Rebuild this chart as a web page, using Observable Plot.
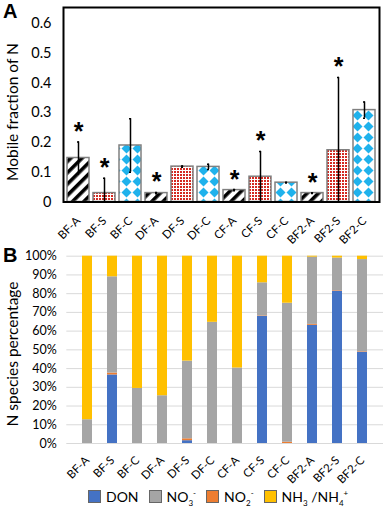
<!DOCTYPE html>
<html><head><meta charset="utf-8">
<script src="https://cdn.jsdelivr.net/npm/d3@7"></script>
<script src="https://cdn.jsdelivr.net/npm/@observablehq/plot@0.6"></script>
<style>
body{margin:0;background:#fff;font-family:Lato,"Open Sans",sans-serif;color:#000}
#wrap{position:relative;width:387px;height:515px;overflow:hidden;background:#fff}
.panel{position:absolute;left:0}
.lab{position:absolute;font-family:"Liberation Sans",Arial,sans-serif;font-weight:bold;font-size:20px;line-height:1}
.ytitle{position:absolute;width:200px;text-align:center;font-size:15.5px;line-height:1;transform:translate(-50%,-50%) rotate(-90deg);white-space:nowrap}
#legend{position:absolute;top:488px;left:88px;height:17px;display:flex;align-items:center;font-size:14px;font-family:Lato,sans-serif;line-height:1}
#legend .it{display:flex;align-items:center;margin-right:10px}
#legend .sw{width:13px;height:13px;border:1px solid #666;margin-right:5px;box-sizing:border-box}
sub,sup{font-size:8px;line-height:0}
</style></head><body>
<div id="wrap">
  <div id="pa" class="panel" style="top:0"></div>
  <div id="pb" class="panel" style="top:245px"></div>
  <div class="lab" style="left:3px;top:1px">A</div>
  <div class="lab" style="left:3px;top:245px">B</div>
  <div class="ytitle" style="left:13px;top:112px">Mobile fraction of N</div>
  <div class="ytitle" style="left:13px;top:354px">N species percentage</div>
  <div id="legend"></div>
</div>
<script>
const samples = ["BF-A","BF-S","BF-C","DF-A","DF-S","DF-C","CF-A","CF-S","CF-C","BF2-A","BF2-S","BF2-C"];
const mobile = [0.148,0.030,0.190,0.030,0.119,0.118,0.040,0.085,0.065,0.030,0.174,0.309];
const mobileErr = [0.054,0.050,0.090,0.002,0.002,0.009,0.002,0.085,0.001,0.001,0.245,0.027];
const significant = [true,true,false,true,false,false,true,true,false,true,true,false];
const yTicksA = [0,0.1,0.2,0.3,0.4,0.5,0.6];
const yTicksB = [0,10,20,30,40,50,60,70,80,90,100];

const speciesOrder = ["DON","NO2","NO3","NH4"]; // stacking bottom -> top
const legendOrder = ["DON","NO3","NO2","NH4"];
const speciesColors = {DON:"#4472C4", NO3:"#A5A5A5", NO2:"#ED7D31", NH4:"#FFC000"};
const don = [0,36.6,0,0,1.5,0,0,67.8,0,63.1,81.3,48.7];
const no2 = [0,1.0,0,0,1.0,0,0,0.3,0.7,0.5,0.3,0.3];
const no3 = [12.7,51.4,29.4,25.5,41.5,64.7,40.3,17.7,74.2,35.9,17.4,49.2];
const nh4 = [87.3,11.0,70.6,74.5,56.0,35.3,59.7,14.2,25.1,0.5,1.0,1.8];

const FONT = "Lato, 'Open Sans', sans-serif";

// ---------- Panel A ----------
const rowsA = samples.map((s,i)=>({sample:s, v:mobile[i], e:mobileErr[i], sig:significant[i], type:s.slice(-1)}));
const patternFor = {A:"url(#patA)", S:"url(#patS)", C:"url(#patC)"};
const barOpts = t => ({x:"sample", y:"v", fill:patternFor[t], stroke:"#808080", strokeWidth:1.5});

const plotA = Plot.plot({
  width:387, height:245, marginTop:7, marginBottom:43.5, marginLeft:63, marginRight:8,
  style:{fontFamily:FONT, background:"#fff", color:"#000"},
  x:{domain:samples, padding:0.15, paddingOuter:0.05, axis:null},
  y:{domain:[0,0.654], axis:null},
  marks:[
    ...["A","S","C"].map(t => Plot.barY(rowsA.filter(d=>d.type===t), barOpts(t))),
    Plot.ruleX(rowsA, {x:"sample", y1:d=>Math.max(0,d.v-d.e), y2:d=>d.v+d.e, stroke:"#000", strokeWidth:1.5}),
    Plot.tickY(rowsA, {x:"sample", y:d=>d.v+d.e, insetLeft:10, insetRight:10, stroke:"#000", strokeWidth:1.5}),
    Plot.tickY(rowsA.filter(d=>d.v-d.e>0), {x:"sample", y:d=>d.v-d.e, insetLeft:10, insetRight:10, stroke:"#000", strokeWidth:1.5}),
    Plot.text(rowsA.filter(d=>d.sig), {x:"sample", y:d=>d.v+d.e, text:()=>"*", dy:-2, lineAnchor:"bottom", fontSize:25, fontWeight:"bold", fontFamily:"'Liberation Sans', Arial, sans-serif"}),
    Plot.axisY({ticks:yTicksA, tickFormat:d=>d===0?"0":d.toFixed(1), tickSize:0, tickPadding:12, fontSize:14.5, label:null}),
    Plot.axisX({tickRotate:-45, tickSize:0, tickPadding:17, fontSize:11.5, label:null}),
    Plot.frame({stroke:"#000", strokeWidth:2})
  ]
});
document.getElementById("pa").appendChild(plotA);

// patterns
const defs = d3.select(plotA).insert("defs", ":first-child");
const pA = defs.append("pattern").attr("id","patA").attr("patternUnits","userSpaceOnUse")
  .attr("width",8).attr("height",8).attr("patternTransform","rotate(45)");
pA.append("rect").attr("width",8).attr("height",8).attr("fill","#fff");
pA.append("rect").attr("width",3.6).attr("height",8).attr("fill","#000");
const pS = defs.append("pattern").attr("id","patS").attr("patternUnits","userSpaceOnUse")
  .attr("width",3).attr("height",3);
pS.append("rect").attr("width",3).attr("height",3).attr("fill","#fff");
pS.append("rect").attr("width",2).attr("height",2).attr("fill","#d42a22");
const pC = defs.append("pattern").attr("id","patC").attr("patternUnits","userSpaceOnUse")
  .attr("width",11).attr("height",11).attr("x",0).attr("y",0);
pC.append("rect").attr("width",11).attr("height",11).attr("fill","#fff");
pC.append("polygon").attr("points","5.5,0.5 10.5,5.5 5.5,10.5 0.5,5.5").attr("fill","#1fb2ec");

// ---------- Panel B ----------
const series = {DON:don, NO2:no2, NO3:no3, NH4:nh4};
const rowsB = [];
samples.forEach((s,i)=>speciesOrder.forEach(k=>rowsB.push({sample:s, species:k, value:series[k][i]})));

const plotB = Plot.plot({
  width:387, height:242, marginTop:10.7, marginBottom:44, marginLeft:66.3, marginRight:4,
  style:{fontFamily:FONT, background:"#fff", color:"#000"},
  x:{domain:samples, padding:0.62, axis:null},
  y:{domain:[0,100], axis:null},
  color:{domain:legendOrder, range:legendOrder.map(k=>speciesColors[k])},
  marks:[
    Plot.gridY(yTicksB, {stroke:"#d9d9d9", strokeOpacity:1, strokeWidth:1}),
    Plot.barY(rowsB, Plot.stackY({order:null}, {x:"sample", y:"value", fill:"species"})),
    Plot.axisY({ticks:yTicksB, tickFormat:d=>d+"%", tickSize:0, tickPadding:10, fontSize:12.5, label:null}),
    Plot.axisX({tickRotate:-45, tickSize:0, tickPadding:15, fontSize:11.5, label:null})
  ]
});
document.getElementById("pb").appendChild(plotB);

// ---------- Legend ----------
const legendLabels = {DON:"DON", NO3:"NO<sub>3</sub><sup>-</sup>", NO2:"NO<sub>2</sub><sup>-</sup>", NH4:"NH<sub>3</sub> /NH<sub>4</sub><sup>+</sup>"};
const lg = document.getElementById("legend");
legendOrder.forEach(k=>{
  const it = document.createElement("div"); it.className="it";
  it.innerHTML = `<span class="sw" style="background:${speciesColors[k]}"></span><span>${legendLabels[k]}</span>`;
  lg.appendChild(it);
});
</script>
</body></html>
